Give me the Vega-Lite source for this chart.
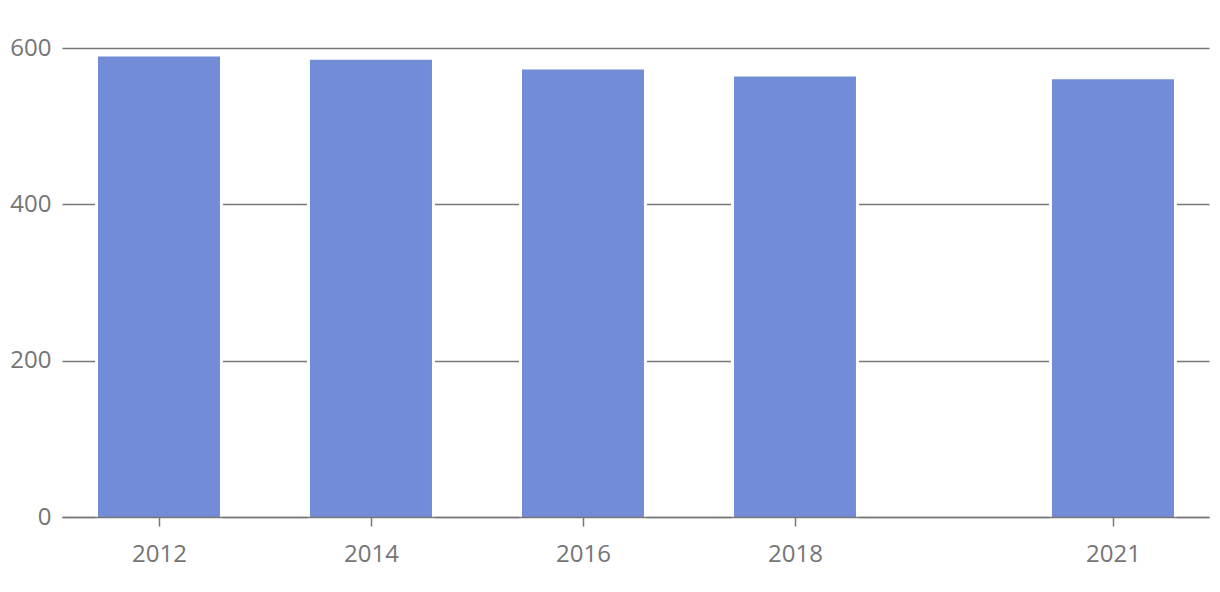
{
  "$schema": "https://vega.github.io/schema/vega-lite/v6.json",
  "width": 1147,
  "height": 469,
  "autosize": {"type": "none"},
  "padding": {"left": 62, "top": 48, "right": 11, "bottom": 75},
  "background": "white",
  "config": {
    "view": {"stroke": null},
    "font": "Open Sans"
  },
  "data": {
    "values": [
      {"year": 2012, "value": 591},
      {"year": 2014, "value": 587},
      {"year": 2016, "value": 574.5},
      {"year": 2018, "value": 565.5},
      {"year": 2021, "value": 562}
    ]
  },
  "mark": {"type": "bar", "size": 125, "color": "#728CD7", "stroke": "white", "strokeWidth": 3},
  "encoding": {
    "x": {
      "field": "year",
      "type": "quantitative",
      "scale": {"domain": [2011.085, 2021.906], "nice": false, "zero": false, "padding": 0},
      "axis": {
        "title": null,
        "values": [2012, 2014, 2016, 2018, 2021],
        "format": "d",
        "grid": false,
        "zindex": 2,
        "domainColor": "#777777",
        "domainWidth": 1.5,
        "tickColor": "#777777",
        "tickWidth": 1.5,
        "tickSize": 9,
        "labelFontSize": 24,
        "labelColor": "#757575",
        "labelPadding": 16
      }
    },
    "y": {
      "field": "value",
      "type": "quantitative",
      "scale": {"domain": [0, 600], "nice": false},
      "axis": {
        "title": null,
        "values": [0, 200, 400, 600],
        "grid": true,
        "gridColor": "#777777",
        "gridWidth": 1.5,
        "domain": false,
        "ticks": false,
        "labelFontSize": 24,
        "labelColor": "#757575",
        "labelPadding": 11
      }
    },
    "y2": {"datum": -3}
  }
}
